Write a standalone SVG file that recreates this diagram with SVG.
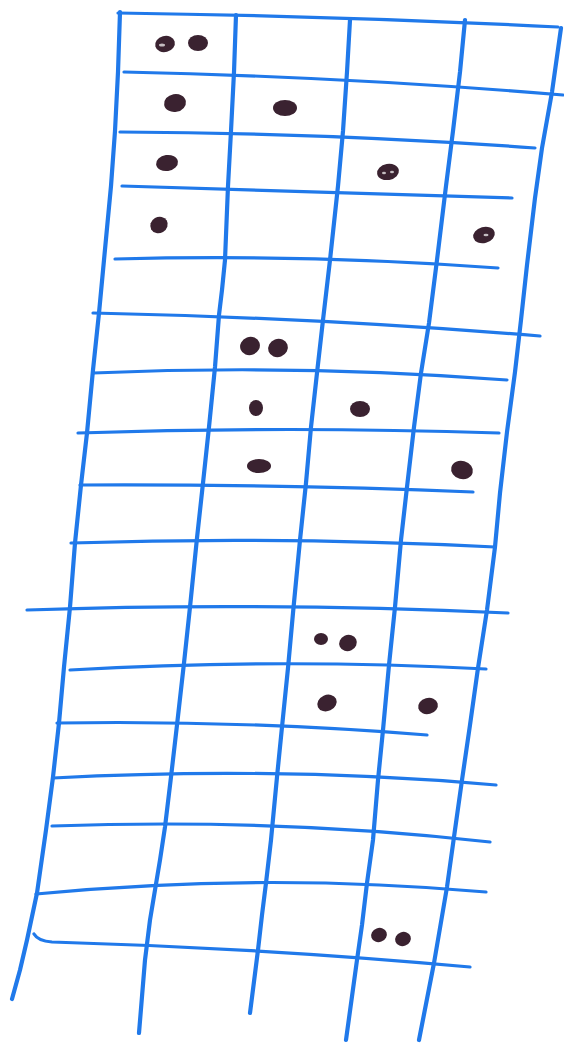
<svg xmlns="http://www.w3.org/2000/svg" width="564" height="1044" viewBox="0 0 564 1044">
<style>
.g{fill:none;stroke:#2079ea;stroke-width:4.2;stroke-linecap:round;stroke-linejoin:round}
.h{stroke-width:3.2}
.d{fill:#3a2230}
.s{fill:#ffffff;opacity:0.7}
</style>
<rect width="564" height="1044" fill="#ffffff"/>
<g id="verticals">
<polyline class="g" points="120,12 118,72 115,131 111,186 104,260 99,313 93,370 87,433 81,485 75,543 70,607 64,667 59,723 53,777 46,830 37,893 27,940 20,970 12,999"/>
<polyline class="g" points="236,15 234,72 231,131 228,186 225,260 222,290 219,315 215,367 209,427 203,483 197,538 190,607 184,663 177,725 171,777 165,827 160,860 155,890 150,920 145,960 139,1033"/>
<polyline class="g" points="350,20 347,72 343,131 338,186 330,260 323,320 317,373 311,427 306,483 300,540 293,613 288,668 282,727 277,777 271,840 266,883 262,915 258,950 250,1013"/>
<polyline class="g" points="465,20 460,72 453,131 446,186 437,260 429,323 421,373 414,427 407,487 401,540 395,607 389,665 383,730 378,780 373,840 367,883 362,925 357,960 346,1040"/>
<polyline class="g" points="561,28 552,92 542,148 535,198 527,265 521,320 515,372 507,432 500,493 495,547 487,610 478,668 470,725 462,780 454,837 447,887 440,928 434,963 419,1040"/>
</g>
<g id="horizontals">
<path class="g h" d="M118,13 Q340,16 558,27"/>
<path class="g h" d="M124,72 Q350,77 563,95"/>
<path class="g h" d="M120,132 Q330,133 535,148"/>
<path class="g h" d="M122,186 Q320,192 512,198"/>
<path class="g h" d="M115,259 Q310,254 498,268"/>
<path class="g h" d="M93,313 Q320,318 540,336"/>
<path class="g h" d="M93,373 Q300,364 507,380"/>
<path class="g h" d="M78,433 Q290,426 499,433"/>
<path class="g h" d="M80,485 Q280,484 473,492"/>
<path class="g h" d="M71,543 Q280,536 495,547"/>
<path class="g h" d="M27,610 Q260,602 508,613"/>
<path class="g h" d="M70,670 Q280,658 486,669"/>
<path class="g h" d="M57,723 Q240,720 427,735"/>
<path class="g h" d="M53,778 Q280,766 496,785"/>
<path class="g h" d="M52,826 Q280,818 490,842"/>
<path class="g h" d="M36,894 Q262,872 486,892"/>
<path class="g h" d="M34,934 Q38,941 52,942 Q262,948 470,967"/>
</g>
<g id="dots">
<ellipse class="d" cx="165" cy="44" rx="10" ry="8" transform="rotate(-15 165 44)"/>
<ellipse class="d" cx="198" cy="43" rx="10" ry="8"/>
<ellipse class="d" cx="175" cy="103" rx="11" ry="9" transform="rotate(-10 175 103)"/>
<ellipse class="d" cx="285" cy="108" rx="12" ry="8"/>
<ellipse class="d" cx="167" cy="163" rx="11" ry="8" transform="rotate(-8 167 163)"/>
<ellipse class="d" cx="388" cy="172" rx="11" ry="8" transform="rotate(-10 388 172)"/>
<ellipse class="d" cx="159" cy="225" rx="9" ry="8" transform="rotate(-30 159 225)"/>
<ellipse class="d" cx="484" cy="235" rx="11" ry="8" transform="rotate(-15 484 235)"/>
<ellipse class="d" cx="250" cy="346" rx="10" ry="9" transform="rotate(-20 250 346)"/>
<ellipse class="d" cx="278" cy="348" rx="10" ry="9" transform="rotate(-20 278 348)"/>
<ellipse class="d" cx="256" cy="408" rx="7" ry="8"/>
<ellipse class="d" cx="360" cy="409" rx="10" ry="8"/>
<ellipse class="d" cx="259" cy="466" rx="12" ry="7"/>
<ellipse class="d" cx="462" cy="470" rx="11" ry="9" transform="rotate(15 462 470)"/>
<ellipse class="d" cx="321" cy="639" rx="7" ry="6"/>
<ellipse class="d" cx="348" cy="643" rx="9" ry="8" transform="rotate(-25 348 643)"/>
<ellipse class="d" cx="327" cy="703" rx="10" ry="8" transform="rotate(-25 327 703)"/>
<ellipse class="d" cx="428" cy="706" rx="10" ry="8" transform="rotate(-15 428 706)"/>
<ellipse class="d" cx="379" cy="935" rx="8" ry="7" transform="rotate(-20 379 935)"/>
<ellipse class="d" cx="403" cy="939" rx="8" ry="7" transform="rotate(-20 403 939)"/>
<ellipse class="s" cx="162" cy="45" rx="3" ry="1.5"/>
<ellipse class="s" cx="384" cy="173" rx="2" ry="1.3"/>
<ellipse class="s" cx="392" cy="172" rx="2" ry="1.3"/>
<ellipse class="s" cx="486" cy="235" rx="2.5" ry="1.3"/>
</g>
</svg>
